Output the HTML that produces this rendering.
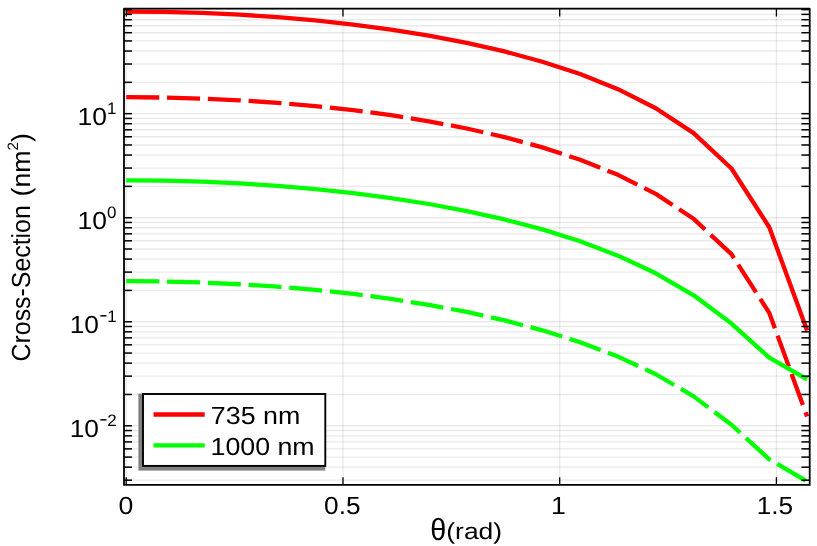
<!DOCTYPE html>
<html lang="en"><head><meta charset="utf-8"><title>Cross-Section vs theta</title>
<style>html,body{margin:0;padding:0;background:#fff;}body{width:817px;height:546px;overflow:hidden;font-family:"Liberation Sans",sans-serif;}svg{display:block;}text{font-family:"Liberation Sans",sans-serif;fill:#000;}</style>
</head><body>
<svg width="817" height="546" viewBox="0 0 817 546">
<rect x="0" y="0" width="817" height="546" fill="#ffffff"/>
<defs><clipPath id="pc"><rect x="124.0" y="8.7" width="685.7" height="476.25"/></clipPath></defs>
<g stroke="#000000" stroke-opacity="0.088" stroke-width="1.35" fill="none">
<line x1="126.25" y1="8.7" x2="126.25" y2="484.95"/>
<line x1="342.98" y1="8.7" x2="342.98" y2="484.95"/>
<line x1="559.70" y1="8.7" x2="559.70" y2="484.95"/>
<line x1="776.42" y1="8.7" x2="776.42" y2="484.95"/>
<line x1="124.0" y1="480.18" x2="809.7" y2="480.18"/>
<line x1="124.0" y1="467.18" x2="809.7" y2="467.18"/>
<line x1="124.0" y1="457.10" x2="809.7" y2="457.10"/>
<line x1="124.0" y1="448.86" x2="809.7" y2="448.86"/>
<line x1="124.0" y1="441.90" x2="809.7" y2="441.90"/>
<line x1="124.0" y1="435.86" x2="809.7" y2="435.86"/>
<line x1="124.0" y1="430.54" x2="809.7" y2="430.54"/>
<line x1="124.0" y1="425.78" x2="809.7" y2="425.78"/>
<line x1="124.0" y1="394.46" x2="809.7" y2="394.46"/>
<line x1="124.0" y1="376.14" x2="809.7" y2="376.14"/>
<line x1="124.0" y1="363.14" x2="809.7" y2="363.14"/>
<line x1="124.0" y1="353.06" x2="809.7" y2="353.06"/>
<line x1="124.0" y1="344.82" x2="809.7" y2="344.82"/>
<line x1="124.0" y1="337.86" x2="809.7" y2="337.86"/>
<line x1="124.0" y1="331.82" x2="809.7" y2="331.82"/>
<line x1="124.0" y1="326.50" x2="809.7" y2="326.50"/>
<line x1="124.0" y1="321.74" x2="809.7" y2="321.74"/>
<line x1="124.0" y1="290.42" x2="809.7" y2="290.42"/>
<line x1="124.0" y1="272.10" x2="809.7" y2="272.10"/>
<line x1="124.0" y1="259.10" x2="809.7" y2="259.10"/>
<line x1="124.0" y1="249.02" x2="809.7" y2="249.02"/>
<line x1="124.0" y1="240.78" x2="809.7" y2="240.78"/>
<line x1="124.0" y1="233.82" x2="809.7" y2="233.82"/>
<line x1="124.0" y1="227.78" x2="809.7" y2="227.78"/>
<line x1="124.0" y1="222.46" x2="809.7" y2="222.46"/>
<line x1="124.0" y1="217.70" x2="809.7" y2="217.70"/>
<line x1="124.0" y1="186.38" x2="809.7" y2="186.38"/>
<line x1="124.0" y1="168.06" x2="809.7" y2="168.06"/>
<line x1="124.0" y1="155.06" x2="809.7" y2="155.06"/>
<line x1="124.0" y1="144.98" x2="809.7" y2="144.98"/>
<line x1="124.0" y1="136.74" x2="809.7" y2="136.74"/>
<line x1="124.0" y1="129.78" x2="809.7" y2="129.78"/>
<line x1="124.0" y1="123.74" x2="809.7" y2="123.74"/>
<line x1="124.0" y1="118.42" x2="809.7" y2="118.42"/>
<line x1="124.0" y1="113.66" x2="809.7" y2="113.66"/>
<line x1="124.0" y1="82.34" x2="809.7" y2="82.34"/>
<line x1="124.0" y1="64.02" x2="809.7" y2="64.02"/>
<line x1="124.0" y1="51.02" x2="809.7" y2="51.02"/>
<line x1="124.0" y1="40.94" x2="809.7" y2="40.94"/>
<line x1="124.0" y1="32.70" x2="809.7" y2="32.70"/>
<line x1="124.0" y1="25.74" x2="809.7" y2="25.74"/>
<line x1="124.0" y1="19.70" x2="809.7" y2="19.70"/>
<line x1="124.0" y1="14.38" x2="809.7" y2="14.38"/>
<line x1="124.0" y1="9.62" x2="809.7" y2="9.62"/>
</g>
<g fill="none" stroke-width="4.3" stroke-linejoin="round" clip-path="url(#pc)">
<polyline points="126.25,11.55 164.08,11.89 201.90,12.93 239.73,14.68 277.55,17.16 315.38,20.43 353.20,24.53 391.03,29.56 428.86,35.61 466.68,42.83 504.51,51.43 542.33,61.70 580.16,74.07 617.98,89.20 655.81,108.21 693.63,133.15 731.46,168.52 769.29,227.24 807.11,330.49" stroke="#ff0000"/>
<polyline points="126.25,97.21 164.08,97.55 201.90,98.59 239.73,100.34 277.55,102.82 315.38,106.09 353.20,110.19 391.03,115.22 428.86,121.27 466.68,128.49 504.51,137.09 542.33,147.36 580.16,159.73 617.98,174.86 655.81,193.87 693.63,218.82 731.46,254.19 769.29,312.94 807.11,416.50" stroke="#ff0000" stroke-dasharray="33 7.8"/>
<polyline points="126.25,180.30 164.08,180.64 201.90,181.67 239.73,183.40 277.55,185.85 315.38,189.07 353.20,193.12 391.03,198.06 428.86,204.00 466.68,211.07 504.51,219.46 542.33,229.42 580.16,241.31 617.98,255.66 655.81,273.27 693.63,295.34 731.46,323.53 769.29,357.68 807.11,379.31" stroke="#00ff00"/>
<polyline points="126.25,281.16 164.08,281.50 201.90,282.52 239.73,284.25 277.55,286.71 315.38,289.93 353.20,293.98 391.03,298.92 428.86,304.86 466.68,311.94 504.51,320.34 542.33,330.31 580.16,342.21 617.98,356.59 655.81,374.23 693.63,396.39 731.46,424.76 769.29,459.35 807.11,481.49" stroke="#00ff00" stroke-dasharray="33 7.8"/>
</g>
<g stroke="#000" stroke-width="1.3" fill="none">
<line x1="126.25" y1="484.95" x2="126.25" y2="477.15"/>
<line x1="126.25" y1="8.7" x2="126.25" y2="16.50"/>
<line x1="342.98" y1="484.95" x2="342.98" y2="477.15"/>
<line x1="342.98" y1="8.7" x2="342.98" y2="16.50"/>
<line x1="559.70" y1="484.95" x2="559.70" y2="477.15"/>
<line x1="559.70" y1="8.7" x2="559.70" y2="16.50"/>
<line x1="776.42" y1="484.95" x2="776.42" y2="477.15"/>
<line x1="776.42" y1="8.7" x2="776.42" y2="16.50"/>
</g>
<g stroke="#000" stroke-width="1.5" fill="none">
<line x1="124.0" y1="480.18" x2="132.00" y2="480.18"/>
<line x1="809.7" y1="480.18" x2="801.40" y2="480.18"/>
<line x1="124.0" y1="467.18" x2="132.00" y2="467.18"/>
<line x1="809.7" y1="467.18" x2="801.40" y2="467.18"/>
<line x1="124.0" y1="457.10" x2="132.00" y2="457.10"/>
<line x1="809.7" y1="457.10" x2="801.40" y2="457.10"/>
<line x1="124.0" y1="448.86" x2="132.00" y2="448.86"/>
<line x1="809.7" y1="448.86" x2="801.40" y2="448.86"/>
<line x1="124.0" y1="441.90" x2="132.00" y2="441.90"/>
<line x1="809.7" y1="441.90" x2="801.40" y2="441.90"/>
<line x1="124.0" y1="435.86" x2="132.00" y2="435.86"/>
<line x1="809.7" y1="435.86" x2="801.40" y2="435.86"/>
<line x1="124.0" y1="430.54" x2="132.00" y2="430.54"/>
<line x1="809.7" y1="430.54" x2="801.40" y2="430.54"/>
<line x1="124.0" y1="425.78" x2="132.00" y2="425.78"/>
<line x1="809.7" y1="425.78" x2="801.40" y2="425.78"/>
<line x1="124.0" y1="394.46" x2="132.00" y2="394.46"/>
<line x1="809.7" y1="394.46" x2="801.40" y2="394.46"/>
<line x1="124.0" y1="376.14" x2="132.00" y2="376.14"/>
<line x1="809.7" y1="376.14" x2="801.40" y2="376.14"/>
<line x1="124.0" y1="363.14" x2="132.00" y2="363.14"/>
<line x1="809.7" y1="363.14" x2="801.40" y2="363.14"/>
<line x1="124.0" y1="353.06" x2="132.00" y2="353.06"/>
<line x1="809.7" y1="353.06" x2="801.40" y2="353.06"/>
<line x1="124.0" y1="344.82" x2="132.00" y2="344.82"/>
<line x1="809.7" y1="344.82" x2="801.40" y2="344.82"/>
<line x1="124.0" y1="337.86" x2="132.00" y2="337.86"/>
<line x1="809.7" y1="337.86" x2="801.40" y2="337.86"/>
<line x1="124.0" y1="331.82" x2="132.00" y2="331.82"/>
<line x1="809.7" y1="331.82" x2="801.40" y2="331.82"/>
<line x1="124.0" y1="326.50" x2="132.00" y2="326.50"/>
<line x1="809.7" y1="326.50" x2="801.40" y2="326.50"/>
<line x1="124.0" y1="321.74" x2="132.00" y2="321.74"/>
<line x1="809.7" y1="321.74" x2="801.40" y2="321.74"/>
<line x1="124.0" y1="290.42" x2="132.00" y2="290.42"/>
<line x1="809.7" y1="290.42" x2="801.40" y2="290.42"/>
<line x1="124.0" y1="272.10" x2="132.00" y2="272.10"/>
<line x1="809.7" y1="272.10" x2="801.40" y2="272.10"/>
<line x1="124.0" y1="259.10" x2="132.00" y2="259.10"/>
<line x1="809.7" y1="259.10" x2="801.40" y2="259.10"/>
<line x1="124.0" y1="249.02" x2="132.00" y2="249.02"/>
<line x1="809.7" y1="249.02" x2="801.40" y2="249.02"/>
<line x1="124.0" y1="240.78" x2="132.00" y2="240.78"/>
<line x1="809.7" y1="240.78" x2="801.40" y2="240.78"/>
<line x1="124.0" y1="233.82" x2="132.00" y2="233.82"/>
<line x1="809.7" y1="233.82" x2="801.40" y2="233.82"/>
<line x1="124.0" y1="227.78" x2="132.00" y2="227.78"/>
<line x1="809.7" y1="227.78" x2="801.40" y2="227.78"/>
<line x1="124.0" y1="222.46" x2="132.00" y2="222.46"/>
<line x1="809.7" y1="222.46" x2="801.40" y2="222.46"/>
<line x1="124.0" y1="217.70" x2="132.00" y2="217.70"/>
<line x1="809.7" y1="217.70" x2="801.40" y2="217.70"/>
<line x1="124.0" y1="186.38" x2="132.00" y2="186.38"/>
<line x1="809.7" y1="186.38" x2="801.40" y2="186.38"/>
<line x1="124.0" y1="168.06" x2="132.00" y2="168.06"/>
<line x1="809.7" y1="168.06" x2="801.40" y2="168.06"/>
<line x1="124.0" y1="155.06" x2="132.00" y2="155.06"/>
<line x1="809.7" y1="155.06" x2="801.40" y2="155.06"/>
<line x1="124.0" y1="144.98" x2="132.00" y2="144.98"/>
<line x1="809.7" y1="144.98" x2="801.40" y2="144.98"/>
<line x1="124.0" y1="136.74" x2="132.00" y2="136.74"/>
<line x1="809.7" y1="136.74" x2="801.40" y2="136.74"/>
<line x1="124.0" y1="129.78" x2="132.00" y2="129.78"/>
<line x1="809.7" y1="129.78" x2="801.40" y2="129.78"/>
<line x1="124.0" y1="123.74" x2="132.00" y2="123.74"/>
<line x1="809.7" y1="123.74" x2="801.40" y2="123.74"/>
<line x1="124.0" y1="118.42" x2="132.00" y2="118.42"/>
<line x1="809.7" y1="118.42" x2="801.40" y2="118.42"/>
<line x1="124.0" y1="113.66" x2="132.00" y2="113.66"/>
<line x1="809.7" y1="113.66" x2="801.40" y2="113.66"/>
<line x1="124.0" y1="82.34" x2="132.00" y2="82.34"/>
<line x1="809.7" y1="82.34" x2="801.40" y2="82.34"/>
<line x1="124.0" y1="64.02" x2="132.00" y2="64.02"/>
<line x1="809.7" y1="64.02" x2="801.40" y2="64.02"/>
<line x1="124.0" y1="51.02" x2="132.00" y2="51.02"/>
<line x1="809.7" y1="51.02" x2="801.40" y2="51.02"/>
<line x1="124.0" y1="40.94" x2="132.00" y2="40.94"/>
<line x1="809.7" y1="40.94" x2="801.40" y2="40.94"/>
<line x1="124.0" y1="32.70" x2="132.00" y2="32.70"/>
<line x1="809.7" y1="32.70" x2="801.40" y2="32.70"/>
<line x1="124.0" y1="25.74" x2="132.00" y2="25.74"/>
<line x1="809.7" y1="25.74" x2="801.40" y2="25.74"/>
<line x1="124.0" y1="19.70" x2="132.00" y2="19.70"/>
<line x1="809.7" y1="19.70" x2="801.40" y2="19.70"/>
<line x1="124.0" y1="14.38" x2="132.00" y2="14.38"/>
<line x1="809.7" y1="14.38" x2="801.40" y2="14.38"/>
<line x1="124.0" y1="9.62" x2="132.00" y2="9.62"/>
<line x1="809.7" y1="9.62" x2="801.40" y2="9.62"/>
</g>
<rect x="124.0" y="8.7" width="685.70" height="476.25" fill="none" stroke="#000" stroke-width="1.8" stroke-linejoin="round"/>
<rect x="138.4" y="393.6" width="186.8" height="77.0" fill="#808080"/>
<rect x="143.0" y="394.0" width="182.3" height="71.9" fill="#ffffff" stroke="#000" stroke-width="1.9"/>
<line x1="153.5" y1="414.5" x2="204.7" y2="414.5" stroke="#ff0000" stroke-width="4.3"/>
<line x1="153.5" y1="445.4" x2="204.7" y2="445.4" stroke="#00ff00" stroke-width="4.3"/>
<g id="labels" style="will-change:transform" text-rendering="geometricPrecision">
<text transform="translate(77.60,124.96) scale(1.0658,1)" font-size="24.8">10</text>
<text transform="translate(107.00,113.76) scale(1.0212,1)" font-size="16.6">1</text>
<text transform="translate(77.60,229.00) scale(1.0658,1)" font-size="24.8">10</text>
<text transform="translate(107.00,217.80) scale(1.0212,1)" font-size="16.6">0</text>
<text transform="translate(69.70,333.04) scale(1.0614,1)" font-size="24.8">10</text>
<text transform="translate(99.30,320.94) scale(1.2800,1)" font-size="19.5">-</text>
<text transform="translate(107.20,321.84) scale(1.0212,1)" font-size="16.6">1</text>
<text transform="translate(69.70,437.08) scale(1.0614,1)" font-size="24.8">10</text>
<text transform="translate(99.30,424.98) scale(1.2800,1)" font-size="19.5">-</text>
<text transform="translate(107.20,425.88) scale(1.0212,1)" font-size="16.6">2</text>
<text transform="translate(118.40,513.60) scale(1.0750,1)" font-size="24.8">0</text>
<text transform="translate(324.10,513.60) scale(1.0589,1)" font-size="24.8">0.5</text>
<text transform="translate(551.00,513.60) scale(1.0750,1)" font-size="24.8">1</text>
<text transform="translate(756.70,513.60) scale(1.0589,1)" font-size="24.8">1.5</text>
<text transform="translate(430.30,540.10) scale(0.9400,1)" font-size="30.6">θ</text>
<text transform="translate(446.30,539.20) scale(1.1498,1)" font-size="23.0">(rad)</text>
<text transform="translate(30.00,361.40) rotate(-90) scale(0.9496,1)" font-size="26.2">Cross-Section</text>
<text transform="translate(30.00,196.50) rotate(-90) scale(1.0185,1)" font-size="26.2">(nm<tspan font-size="15" dy="-12.2">2</tspan><tspan dy="12.2">)</tspan></text>
<text transform="translate(210.80,424.10) scale(1.0825,1)" font-size="24.8">735 nm</text>
<text transform="translate(210.50,455.10) scale(1.0793,1)" font-size="24.8">1000 nm</text>
</g>
</svg>
</body></html>
